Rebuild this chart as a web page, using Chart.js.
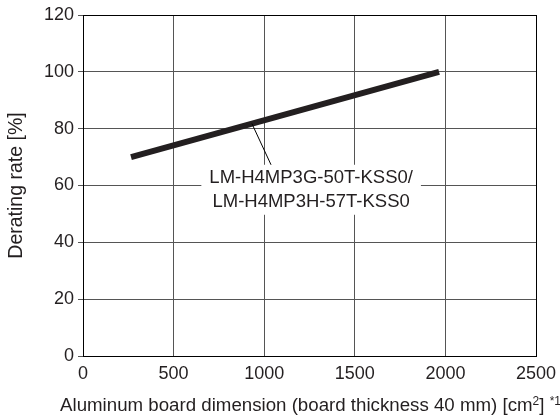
<!DOCTYPE html>
<html><head><meta charset="utf-8">
<script src="https://cdn.jsdelivr.net/npm/chart.js@4/dist/chart.umd.min.js"></script>
<style>html,body{margin:0;padding:0;background:#fff}#wrap{width:560px;height:416px}</style>
</head><body><div id="wrap"><canvas id="c" width="560" height="416"></canvas></div>
<script>
// ---- data ----
const xValues = [265, 1965];
const yValues = [70, 100];
const xTicks = [0, 500, 1000, 1500, 2000, 2500];
const yTicks = [0, 20, 40, 60, 80, 100, 120];
// x-axis title parts: [text, isSuperscript]
const xTitleParts = [['Aluminum board dimension (board thickness 40 mm) [cm', false], ['2', true], ['] ', false], ['*1', true]];
const yTitle = 'Derating rate [%]';
const labelLines = ['LM-H4MP3G-50T-KSS0/', 'LM-H4MP3H-57T-KSS0'];
const labelCenter = [1259, 58.5];
const leaderFrom = [932, 81.8];
const leaderTo = [1042, 66.7];

const FONT = "'Liberation Sans', Arial, sans-serif";
const GRID = '#555555';
const TEXT = '#231f20';

const annotationPlugin = {
  id: 'annot',
  afterDatasetsDraw(chart) {
    const {ctx, scales: {x, y}} = chart;
    ctx.save();
    ctx.strokeStyle = '#000';
    ctx.lineWidth = 1;
    ctx.beginPath();
    ctx.moveTo(x.getPixelForValue(leaderFrom[0]), y.getPixelForValue(leaderFrom[1]));
    ctx.lineTo(x.getPixelForValue(leaderTo[0]), y.getPixelForValue(leaderTo[1]));
    ctx.stroke();
    ctx.font = '18.5px ' + FONT;
    const lh = 24;
    let w = 0;
    labelLines.forEach(t => { w = Math.max(w, ctx.measureText(t).width); });
    const cx = x.getPixelForValue(labelCenter[0]);
    const cy = y.getPixelForValue(labelCenter[1]);
    const h = lh * labelLines.length;
    ctx.fillStyle = '#fff';
    ctx.fillRect(cx - w / 2 - 8, cy - h / 2 - 1, w + 16, h + 2);
    ctx.fillStyle = TEXT;
    ctx.textAlign = 'center';
    ctx.textBaseline = 'middle';
    labelLines.forEach((t, i) => ctx.fillText(t, cx, cy - h / 2 + lh * (i + 0.5)));
    ctx.restore();
  },
  afterDraw(chart) {
    // x-axis title with superscripts
    const {ctx, chartArea} = chart;
    const base = 18.7, sup = 12;
    ctx.save();
    ctx.fillStyle = TEXT;
    ctx.textBaseline = 'alphabetic';
    ctx.textAlign = 'left';
    const widths = xTitleParts.map(([t, s]) => {
      ctx.font = (s ? sup : base) + 'px ' + FONT;
      return ctx.measureText(t).width;
    });
    const total = widths.reduce((a, b) => a + b, 0);
    let px = (chartArea.left + chartArea.right) / 2 + 1 - total / 2;
    const baseline = chartArea.bottom + 55;
    xTitleParts.forEach(([t, s], i) => {
      ctx.font = (s ? sup : base) + 'px ' + FONT;
      ctx.fillText(t, px, s ? baseline - 6 : baseline);
      px += widths[i];
    });
    ctx.restore();
  }
};

new Chart(document.getElementById('c'), {
  type: 'scatter',
  data: {
    datasets: [{
      data: xValues.map((v, i) => ({x: v, y: yValues[i]})),
      showLine: true,
      borderColor: TEXT,
      borderWidth: 6,
      pointRadius: 0,
      borderCapStyle: 'butt'
    }]
  },
  options: {
    responsive: false,
    animation: false,
    layout: {padding: {top: 15, right: 24, left: 0, bottom: 0}},
    plugins: {legend: {display: false}, tooltip: {enabled: false}},
    scales: {
      x: {
        type: 'linear', min: 0, max: 2500,
        afterBuildTicks: s => { s.ticks = xTicks.map(v => ({value: v})); },
        afterFit: s => { s.height = 60; s.paddingRight = 0; s.paddingLeft = 0; },
        grid: {
          color: c => (c.tick && c.tick.value === 2500) ? '#000' : GRID,
          lineWidth: 1, drawTicks: false
        },
        border: {color: '#000', width: 1},
        ticks: {color: TEXT, font: {family: FONT, size: 18}, padding: 7, maxRotation: 0, callback: v => String(v)},
        title: {display: false}
      },
      y: {
        min: 0, max: 120,
        afterBuildTicks: s => { s.ticks = yTicks.map(v => ({value: v})); },
        afterFit: s => { s.width = 83; s.paddingTop = 0; s.paddingBottom = 0; },
        grid: {
          color: c => (c.tick && c.tick.value === 120) ? '#000' : GRID,
          lineWidth: 1, drawTicks: true, tickLength: 5, tickColor: GRID
        },
        border: {color: '#000', width: 1},
        ticks: {color: TEXT, font: {family: FONT, size: 18}, padding: 4, callback: v => String(v)},
        title: {display: true, text: yTitle, color: TEXT, font: {family: FONT, size: 19.5}, padding: {top: 5, bottom: 0}}
      }
    }
  },
  plugins: [annotationPlugin]
});
</script></body></html>
